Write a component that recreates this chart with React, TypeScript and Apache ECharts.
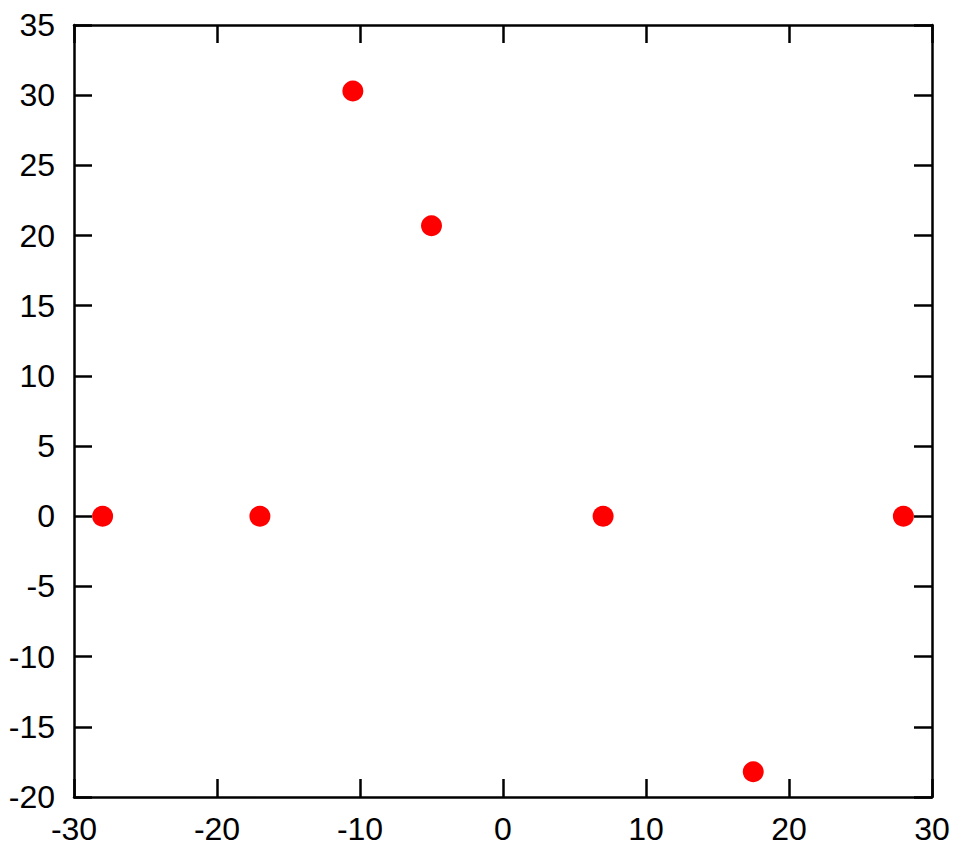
import React, { useEffect, useRef } from "react";
import * as echarts from "echarts";

const xValues = [-28, -17, -10.5, -5, 7, 17.5, 28];
const yValues = [0, 0, 30.3, 20.7, 0, -18.2, 0];

const X_MIN = -30, X_MAX = 30, X_STEP = 10;
const Y_MIN = -20, Y_MAX = 35, Y_STEP = 5;

export default function App() {
  const ref = useRef<HTMLDivElement>(null);
  useEffect(() => {
    if (!ref.current) return;
    const chart = echarts.init(ref.current, null, { renderer: "svg" });
    const font = { fontFamily: "Liberation Sans, Arial, sans-serif", fontSize: 32, color: "#000" };
    const lineStyle = { color: "#000", width: 2.5 };
    const baseX = {
      type: "value",
      min: X_MIN, max: X_MAX, interval: X_STEP,
      axisLine: { show: true, onZero: false, lineStyle },
      axisTick: { show: true, inside: true, length: 18, lineStyle },
      splitLine: { show: false },
    };
    const baseY = {
      type: "value",
      min: Y_MIN, max: Y_MAX, interval: Y_STEP,
      axisLine: { show: true, onZero: false, lineStyle },
      axisTick: { show: true, inside: true, length: 18, lineStyle },
      splitLine: { show: false },
    };
    chart.setOption({
      animation: false,
      backgroundColor: "#fff",
      grid: { left: 74, top: 25, right: 32, bottom: 57, containLabel: false },
      xAxis: [
        { ...baseX, position: "bottom", axisLabel: { ...font, margin: 16 } },
        { ...baseX, position: "top", axisLabel: { show: false } },
      ],
      yAxis: [
        { ...baseY, position: "left", axisLabel: { ...font, margin: 19 } },
        { ...baseY, position: "right", axisLabel: { show: false } },
      ],
      series: [
        {
          type: "scatter",
          xAxisIndex: 0,
          yAxisIndex: 0,
          symbol: "circle",
          symbolSize: 21,
          itemStyle: { color: "#ff0000", opacity: 1 },
          data: xValues.map((x, i) => [x, yValues[i]]),
        },
      ],
    });
    return () => chart.dispose();
  }, []);
  return <div ref={ref} style={{ width: 964, height: 854, position: "absolute", left: 0, top: 0 }} />;
}
